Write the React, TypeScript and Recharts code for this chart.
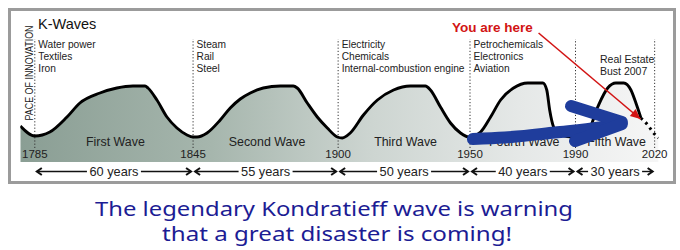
import React from 'react';
import { ComposedChart, Area, Line, XAxis, YAxis, ReferenceLine } from 'recharts';

// ---- data (year, pace-of-innovation units) ----
const years = [1779.5, 1785, 1790.7, 1797.2, 1802.1, 1809.7, 1816.1, 1822.2, 1826.8, 1827.9, 1831.3, 1835.1, 1838.9, 1842.7, 1845, 1846.5, 1850.3, 1855.3, 1859.1, 1862.9, 1866.7, 1871.6, 1878.1, 1883.0, 1884.5, 1888.3, 1892.1, 1895.9, 1899.7, 1901.6, 1904.6, 1909.6, 1914.9, 1921.0, 1927.4, 1933.1, 1935.0, 1938.8, 1942.6, 1946.4, 1949.5, 1954.0, 1957.8, 1961.6, 1966.5, 1971.9, 1977.6, 1979.1, 1980.2, 1981.7, 1984.4, 1989.3, 1994.6, 1998.4, 2002.2, 2005.3, 2008.3, 2011.0, 2012.9, 2014.8, 2017.4, 2019.3, 2021.5];
const pace = [36, 26, 30, 45, 59, 69, 74, 76, 76, 74, 62, 45, 34, 27, 25, 25, 29, 42, 54, 63, 69, 74, 76, 76, 74, 59, 45, 34, 25, 24, 29, 47, 62, 72, 76, 76, 72, 55, 39, 29, 25, 30, 45, 62, 74, 79, 79, 72, 52, 35, 27, 25, 30, 55, 74, 79, 79, 72, 59, 44, 37, 30, 24];
const SOLID_LAST = 59;

const yearTicks = [1785, 1845, 1900, 1950, 1990, 2020];
const periodLabels = ['60 years', '55 years', '50 years', '40 years', '30 years'];
const waveNames = ['First Wave', 'Second Wave', 'Third Wave', 'Fourth Wave', 'Fifth Wave'];
const innovationYears = [1785, 1845, 1900, 1950];
const innovationLines = [
  ['Water power', 'Textiles', 'Iron'],
  ['Steam', 'Rail', 'Steel'],
  ['Electricity', 'Chemicals', 'Internal-combustion engine'],
  ['Petrochemicals', 'Electronics', 'Aviation'],
];
const noteLines = ['Real Estate', 'Bust 2007'];
const captionLines = ['The legendary Kondratieff wave is warning', 'that a great disaster is coming!'];

const blueShaft = [
  { year: 1951.1, v: 23 },
  { year: 1963.2, v: 24.5 },
  { year: 1982.2, v: 29.5 },
  { year: 1999.2, v: 34.5 },
  { year: 2004.5, v: 37 },
];
const blueUpper = [
  { year: 1988.3, v: 56 },
  { year: 2007.6, v: 40 },
];
const blueLower = [
  { year: 1989.8, v: 21 },
  { year: 2007.6, v: 38 },
];
const redArrow = [
  { year: 1976.0, v: 129 },
  { year: 2014.6, v: 43 },
];

const rows = years.map((y, i) => ({
  year: y,
  v: pace[i],
  solid: i <= SOLID_LAST ? pace[i] : null,
  dotted: i >= SOLID_LAST ? pace[i] : null,
}));

const W = 680;
const H = 250;
const X_DOMAIN: [number, number] = [1779.5, 2021.5];
const Y_DOMAIN: [number, number] = [0, 162];
const ML = 20.3;
const MR = 21.4;
const px = (yr: number) => ML + ((yr - X_DOMAIN[0]) / (X_DOMAIN[1] - X_DOMAIN[0])) * (W - ML - MR);

const SANS = '"Liberation Sans", Arial, Helvetica, sans-serif';

const YearTick = (props: any) => {
  const { x, payload } = props;
  return (
    <text x={x} y={158} textAnchor="middle" fontSize={11.5} fill="#222" fontFamily={SANS}>
      {payload.value}
    </text>
  );
};

const RedHead = (props: any) => {
  const { cx, cy, index } = props;
  if (index !== redArrow.length - 1 || cx == null) return <g key={`rh${index}`} />;
  return (
    <polygon
      key={`rh${index}`}
      points="0,0 -10,-4.5 -10,4.5"
      fill="#d21414"
      transform={`translate(${cx},${cy}) rotate(40)`}
    />
  );
};

const BLUE = '#1f3d9c';

export default function App() {
  return (
    <div style={{ position: 'absolute', left: 0, top: 0, width: W, height: H, background: '#fff', overflow: 'hidden' }}>
      {/* layer 1: the wave */}
      <div style={{ position: 'absolute', left: 0, top: 0 }}>
        <ComposedChart width={W} height={H} data={rows} margin={{ top: 0, right: MR, bottom: 68, left: ML }}>
          <defs>
            <linearGradient id="waveFill" x1="0" y1="0" x2="1" y2="0">
              <stop offset="0%" stopColor="#8a9e94" />
              <stop offset="30%" stopColor="#a6b6ad" />
              <stop offset="55%" stopColor="#cdd5d1" />
              <stop offset="78%" stopColor="#e5e8e7" />
              <stop offset="100%" stopColor="#f6f6f6" />
            </linearGradient>
          </defs>
          <XAxis
            dataKey="year"
            type="number"
            domain={X_DOMAIN}
            allowDataOverflow
            ticks={yearTicks}
            interval={0}
            height={20}
            axisLine={false}
            tickLine={false}
            tick={<YearTick />}
          />
          <YAxis hide type="number" domain={Y_DOMAIN} allowDataOverflow />
          <Area
            type="monotone"
            dataKey="v"
            stroke="none"
            fill="url(#waveFill)"
            fillOpacity={1}
            isAnimationActive={false}
            dot={false}
            activeDot={false}
          />
          {yearTicks.map((yr) => (
            <ReferenceLine
              key={yr}
              segment={[{ x: yr, y: 14 }, { x: yr, y: 123 }]}
              stroke="#333"
              strokeWidth={1}
              strokeDasharray="1.2 2"
            />
          ))}
          <Line
            type="monotone"
            dataKey="solid"
            stroke="#000"
            strokeWidth={2.9}
            dot={false}
            activeDot={false}
            isAnimationActive={false}
          />
          <Line
            type="monotone"
            dataKey="dotted"
            stroke="#000"
            strokeWidth={3}
            strokeDasharray="2.5 4"
            dot={false}
            activeDot={false}
            isAnimationActive={false}
          />
        </ComposedChart>
      </div>

      {/* layer 2: annotations */}
      <svg width={W} height={H} style={{ position: 'absolute', left: 0, top: 0 }} fontFamily={SANS}>
        <rect x={9.5} y={9.5} width={665} height={173} fill="none" stroke="#9b9b9b" strokeWidth={3} />
        <text x={38} y={29} fontSize={14.5} fill="#111">K-Waves</text>
        <text
          transform="translate(32.8,73) rotate(-90)"
          textAnchor="middle"
          fontSize={11}
          fill="#222"
          textLength={95}
          lengthAdjust="spacingAndGlyphs"
        >
          PACE OF INNOVATION
        </text>
        {innovationYears.map((yr, i) => (
          <g key={yr}>
            {innovationLines[i].map((t, j) => (
              <text key={t} x={px(yr) + 3.5} y={48 + j * 12} fontSize={10.2} fill="#222">
                {t}
              </text>
            ))}
          </g>
        ))}
        {noteLines.map((t, j) => (
          <text key={t} x={600} y={63 + j * 12} fontSize={10.5} fill="#222">
            {t}
          </text>
        ))}
        <text x={452} y={32} fontSize={13.5} fontWeight="bold" fill="#d21414">You are here</text>
        {waveNames.map((name, i) => {
          const mid = (yearTicks[i] + yearTicks[i + 1]) / 2;
          return (
            <text key={name} x={px(mid) + 1.5} y={146} textAnchor="middle" fontSize={12.4} fill="#222">
              {name}
            </text>
          );
        })}
        {periodLabels.map((label, i) => {
          const a = px(yearTicks[i]);
          const b = px(yearTicks[i + 1]);
          const m = (a + b) / 2;
          const y = 171.5;
          return (
            <g key={label} stroke="#111" fill="none">
              <line x1={a + 2} y1={y} x2={m - 27} y2={y} strokeWidth={1.4} />
              <line x1={m + 27} y1={y} x2={b - 2} y2={y} strokeWidth={1.4} />
              <polyline points={`${a + 7},${y - 3.5} ${a + 2},${y} ${a + 7},${y + 3.5}`} strokeWidth={2} />
              <polyline points={`${b - 7},${y - 3.5} ${b - 2},${y} ${b - 7},${y + 3.5}`} strokeWidth={2} />
              <text x={m} y={175.5} textAnchor="middle" fontSize={12.8} fill="#222" stroke="none">
                {label}
              </text>
            </g>
          );
        })}
        <text
          x={334}
          y={216}
          textAnchor="middle"
          fontSize={19.5}
          fill="#1c1c94"
          fontFamily='"Noto Sans", "Open Sans", sans-serif'
          textLength={478}
          lengthAdjust="spacingAndGlyphs"
        >
          {captionLines[0]}
        </text>
        <text
          x={337}
          y={241}
          textAnchor="middle"
          fontSize={19.5}
          fill="#1c1c94"
          fontFamily='"Noto Sans", "Open Sans", sans-serif'
          textLength={350}
          lengthAdjust="spacingAndGlyphs"
        >
          {captionLines[1]}
        </text>
      </svg>

      {/* layer 3: arrows on top */}
      <div style={{ position: 'absolute', left: 0, top: 0 }}>
        <ComposedChart width={W} height={H} margin={{ top: 0, right: MR, bottom: 88, left: ML }}>
          <XAxis hide dataKey="year" type="number" domain={X_DOMAIN} allowDataOverflow />
          <YAxis hide type="number" domain={Y_DOMAIN} allowDataOverflow />
          <Line
            data={blueShaft}
            dataKey="v"
            type="monotone"
            stroke={BLUE}
            strokeWidth={12}
            strokeLinecap="round"
            dot={false}
            activeDot={false}
            isAnimationActive={false}
          />
          <Line
            data={blueUpper}
            dataKey="v"
            type="linear"
            stroke={BLUE}
            strokeWidth={12}
            strokeLinecap="round"
            dot={false}
            activeDot={false}
            isAnimationActive={false}
          />
          <Line
            data={blueLower}
            dataKey="v"
            type="linear"
            stroke={BLUE}
            strokeWidth={12}
            strokeLinecap="round"
            dot={false}
            activeDot={false}
            isAnimationActive={false}
          />
          <Line
            data={redArrow}
            dataKey="v"
            type="linear"
            stroke="#d21414"
            strokeWidth={1.6}
            dot={<RedHead />}
            activeDot={false}
            isAnimationActive={false}
          />
        </ComposedChart>
      </div>
    </div>
  );
}
